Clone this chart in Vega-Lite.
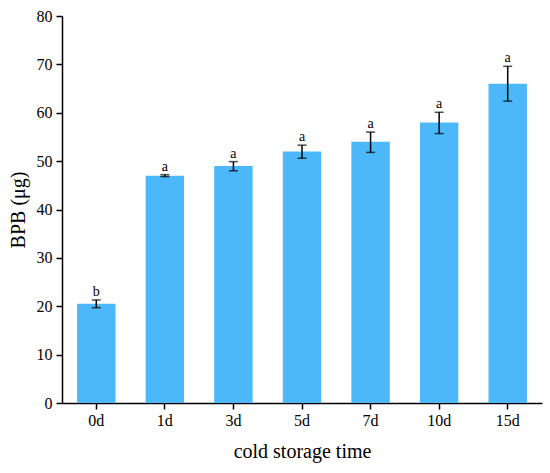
{
  "$schema": "https://vega.github.io/schema/vega-lite/v6.json",
  "width": 480,
  "height": 387,
  "autosize": {"type": "none"},
  "padding": {"left": 62, "top": 16, "right": 8, "bottom": 70},
  "background": "white",
  "data": {
    "values": [
      {"time": "0d", "bpb": 20.5, "lo": 19.7, "hi": 21.3, "sig": "b"},
      {"time": "1d", "bpb": 47.0, "lo": 46.8, "hi": 47.2, "sig": "a"},
      {"time": "3d", "bpb": 49.0, "lo": 48.0, "hi": 49.9, "sig": "a"},
      {"time": "5d", "bpb": 52.0, "lo": 50.6, "hi": 53.3, "sig": "a"},
      {"time": "7d", "bpb": 54.0, "lo": 51.8, "hi": 56.0, "sig": "a"},
      {"time": "10d", "bpb": 58.0, "lo": 55.7, "hi": 60.1, "sig": "a"},
      {"time": "15d", "bpb": 66.0, "lo": 62.4, "hi": 69.6, "sig": "a"}
    ]
  },
  "encoding": {
    "x": {
      "field": "time", "type": "nominal", "sort": null,
      "scale": {"paddingInner": 0.44, "paddingOuter": 0.22},
      "axis": {
        "title": "cold storage time", "labelAngle": 0,
        "labelFont": "Liberation Serif", "labelFontSize": 16,
        "tickSize": 6, "labelPadding": 3, "titlePadding": 13
      }
    }
  },
  "layer": [
    {
      "mark": {"type": "bar", "color": "#4db8f9"},
      "encoding": {
        "y": {
          "field": "bpb", "type": "quantitative", "title": "BPB (μg)",
          "scale": {"domain": [0, 80], "nice": false},
          "axis": {
            "values": [0, 10, 20, 30, 40, 50, 60, 70, 80],
            "labelFont": "Liberation Serif", "labelFontSize": 16,
            "tickSize": 6, "labelPadding": 4, "titlePadding": 8
          }
        }
      }
    },
    {
      "mark": {
        "type": "errorbar",
        "color": "black",
        "thickness": 1.5,
        "ticks": {"size": 9, "thickness": 1.5, "color": "black"}
      },
      "encoding": {
        "y": {
          "field": "lo", "type": "quantitative", "title": "BPB (μg)",
          "scale": {"domain": [0, 80], "nice": false},
          "axis": {
            "values": [0, 10, 20, 30, 40, 50, 60, 70, 80],
            "labelFont": "Liberation Serif", "labelFontSize": 16,
            "tickSize": 6, "labelPadding": 4, "titlePadding": 8
          }
        },
        "y2": {"field": "hi"}
      }
    },
    {
      "mark": {
        "type": "text", "baseline": "bottom", "dy": -1,
        "font": "Liberation Serif", "fontSize": 14, "color": "black"
      },
      "encoding": {
        "y": {
          "field": "hi", "type": "quantitative", "title": "BPB (μg)",
          "scale": {"domain": [0, 80], "nice": false},
          "axis": {
            "values": [0, 10, 20, 30, 40, 50, 60, 70, 80],
            "labelFont": "Liberation Serif", "labelFontSize": 16,
            "tickSize": 6, "labelPadding": 4, "titlePadding": 8
          }
        },
        "text": {"field": "sig"}
      }
    }
  ],
  "config": {
    "view": {"stroke": null},
    "axis": {
      "grid": false,
      "domainColor": "black",
      "domainWidth": 1.5,
      "tickColor": "black",
      "tickWidth": 1.5,
      "labelFont": "Liberation Serif",
      "labelFontSize": 16,
      "labelColor": "black",
      "titleFont": "Liberation Serif",
      "titleFontSize": 20,
      "titleFontWeight": "normal",
      "titleColor": "black"
    }
  }
}
